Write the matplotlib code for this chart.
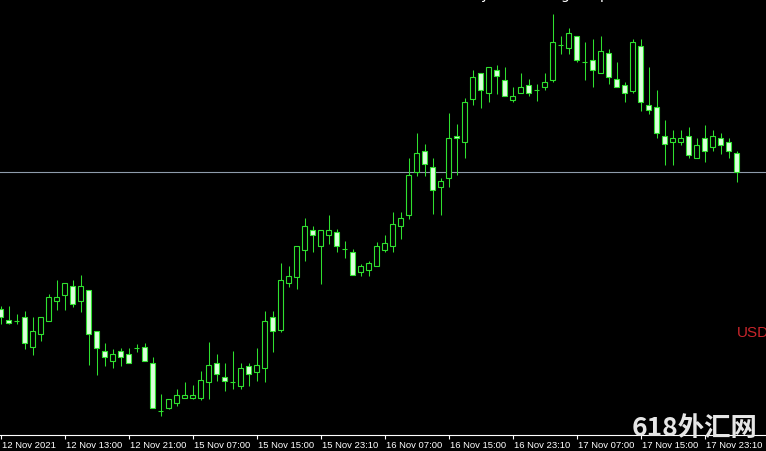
import matplotlib
matplotlib.use('Agg')
import matplotlib.pyplot as plt
from matplotlib.transforms import ScaledTranslation
import numpy as np

# hourly candles, 12 Nov 2021 05:00 -> 17 Nov
opens = [114.380, 114.358, 114.356, 114.364, 114.304, 114.330, 114.356, 114.396, 114.408, 114.426,
         114.396, 114.418, 114.336, 114.296, 114.276, 114.296, 114.290, 114.302, 114.304, 114.272,
         114.176, 114.182, 114.192, 114.202, 114.202, 114.202, 114.234, 114.272, 114.244, 114.234,
         114.226, 114.266, 114.254, 114.262, 114.364, 114.338, 114.432, 114.444, 114.498, 114.538,
         114.506, 114.528, 114.534, 114.500, 114.494, 114.454, 114.458, 114.466, 114.498, 114.506,
         114.546, 114.568, 114.654, 114.696, 114.664, 114.624, 114.642, 114.726, 114.714, 114.800,
         114.852, 114.812, 114.858, 114.838, 114.798, 114.812, 114.828, 114.818, 114.824, 114.838,
         114.908, 114.902, 114.926, 114.874, 114.878, 114.852, 114.892, 114.840, 114.828, 114.816,
         114.906, 114.788, 114.784, 114.726, 114.714, 114.714, 114.726, 114.682, 114.722, 114.704,
         114.722, 114.714, 114.692]
highs = [114.386, 114.386, 114.370, 114.376, 114.364, 114.364, 114.410, 114.438, 114.432, 114.438,
         114.448, 114.418, 114.336, 114.312, 114.300, 114.302, 114.302, 114.310, 114.312, 114.284,
         114.210, 114.200, 114.220, 114.234, 114.228, 114.256, 114.314, 114.290, 114.272, 114.296,
         114.272, 114.272, 114.302, 114.376, 114.376, 114.472, 114.466, 114.506, 114.562, 114.546,
         114.538, 114.568, 114.540, 114.516, 114.500, 114.470, 114.476, 114.514, 114.528, 114.574,
         114.574, 114.682, 114.732, 114.710, 114.682, 114.642, 114.772, 114.750, 114.802, 114.858,
         114.852, 114.864, 114.868, 114.864, 114.824, 114.852, 114.840, 114.830, 114.852, 114.970,
         114.926, 114.942, 114.926, 114.914, 114.920, 114.926, 114.900, 114.874, 114.834, 114.920,
         114.920, 114.864, 114.818, 114.758, 114.738, 114.738, 114.744, 114.722, 114.748, 114.738,
         114.732, 114.722, 114.696]
lows = [114.350, 114.350, 114.350, 114.300, 114.288, 114.316, 114.356, 114.378, 114.378, 114.384,
        114.374, 114.268, 114.248, 114.266, 114.262, 114.266, 114.272, 114.294, 114.276, 114.182,
        114.166, 114.180, 114.186, 114.202, 114.200, 114.198, 114.200, 114.236, 114.216, 114.220,
        114.220, 114.226, 114.236, 114.234, 114.294, 114.334, 114.424, 114.420, 114.476, 114.494,
        114.430, 114.510, 114.494, 114.482, 114.448, 114.446, 114.446, 114.466, 114.494, 114.494,
        114.520, 114.560, 114.646, 114.646, 114.570, 114.568, 114.624, 114.648, 114.682, 114.788,
        114.782, 114.794, 114.810, 114.806, 114.794, 114.812, 114.806, 114.796, 114.818, 114.834,
        114.890, 114.890, 114.874, 114.838, 114.824, 114.852, 114.830, 114.824, 114.794, 114.812,
        114.776, 114.770, 114.722, 114.668, 114.668, 114.708, 114.682, 114.682, 114.674, 114.696,
        114.690, 114.682, 114.634]
closes = [114.364, 114.352, 114.356, 114.312, 114.336, 114.364, 114.404, 114.404, 114.432, 114.390,
          114.426, 114.330, 114.302, 114.284, 114.290, 114.284, 114.272, 114.302, 114.276, 114.182,
          114.176, 114.200, 114.208, 114.208, 114.208, 114.238, 114.268, 114.250, 114.236, 114.234,
          114.262, 114.250, 114.268, 114.356, 114.336, 114.438, 114.446, 114.506, 114.546, 114.528,
          114.538, 114.538, 114.506, 114.500, 114.448, 114.466, 114.472, 114.506, 114.512, 114.550,
          114.562, 114.648, 114.692, 114.670, 114.618, 114.636, 114.722, 114.722, 114.794, 114.844,
          114.818, 114.864, 114.846, 114.806, 114.806, 114.824, 114.812, 114.818, 114.834, 114.914,
          114.908, 114.932, 114.878, 114.874, 114.858, 114.896, 114.844, 114.824, 114.812, 114.914,
          114.794, 114.778, 114.732, 114.710, 114.722, 114.722, 114.688, 114.708, 114.696, 114.726,
          114.708, 114.696, 114.654]

tick_pos = [0, 8, 16, 24, 32, 40, 48, 56, 64, 72, 80, 88]
tick_labels = ['12 Nov 2021', '12 Nov 13:00', '12 Nov 21:00', '15 Nov 07:00', '15 Nov 15:00',
               '15 Nov 23:10', '16 Nov 07:00', '16 Nov 15:00', '16 Nov 23:10', '17 Nov 07:00',
               '17 Nov 15:00', '17 Nov 23:10']

W, H = 766, 452
fig = plt.figure(figsize=(W / 100, H / 100), dpi=100, facecolor='black')
ax = fig.add_axes([0, 16 / H, 1, 436 / H], facecolor='black')

o = np.array(opens); h = np.array(highs); l = np.array(lows); c = np.array(closes)
x = np.arange(len(o))
green = '#2fe02f'
pale = '#dcffdc'

ax.vlines(x, l, h, color=green, lw=0.75, zorder=2)
up = c >= o
ax.bar(x[up], c[up] - o[up], bottom=o[up], width=0.6, facecolor='black',
       edgecolor=green, linewidth=0.8, zorder=3)
ax.bar(x[~up], o[~up] - c[~up], bottom=c[~up], width=0.6, facecolor=pale,
       edgecolor=green, linewidth=0.8, zorder=3)

# bid line
ax.axhline(closes[-1], color='#8e9bab', lw=0.8, zorder=1)

ax.set_xlim(-0.5 / 8, (W - 0.5) / 8)
ax.set_ylim(115.000 - 0.002 * 436, 115.000)

for s in ['top', 'left', 'right']:
    ax.spines[s].set_visible(False)
ax.spines['bottom'].set_color('white')
ax.spines['bottom'].set_linewidth(0.8)
ax.set_yticks([])
ax.set_xticks(tick_pos)
ax.set_xticklabels(tick_labels, ha='left', fontsize=6.8, family='Liberation Sans', color='white')
ax.tick_params(axis='x', colors='white', length=3, width=0.8, pad=0.5)
off = ScaledTranslation(2 / 100, 0, fig.dpi_scale_trans)
for lab in ax.get_xticklabels():
    lab.set_transform(lab.get_transform() + off)

# cut-off title at the top edge
for xp, ch in [(481, 'y'), (560, 'g'), (600, 'p')]:
    fig.text(xp / W, 1 + 0.5 / H, ch, color='white', fontsize=10, va='baseline')

fig.text(737 / W, 1 - 333 / H, 'USD', color='#c8252b', fontsize=11,
         family='Liberation Sans', va='center', ha='left')

fig.text(632 / W, 1 - 429 / H, '618外汇网', color='#e6e6e6', fontsize=19, fontweight='bold',
         family=['Noto Sans CJK SC', 'DejaVu Sans'], va='center', ha='left', zorder=10)

fig.savefig('out.png', dpi=100, facecolor='black')
